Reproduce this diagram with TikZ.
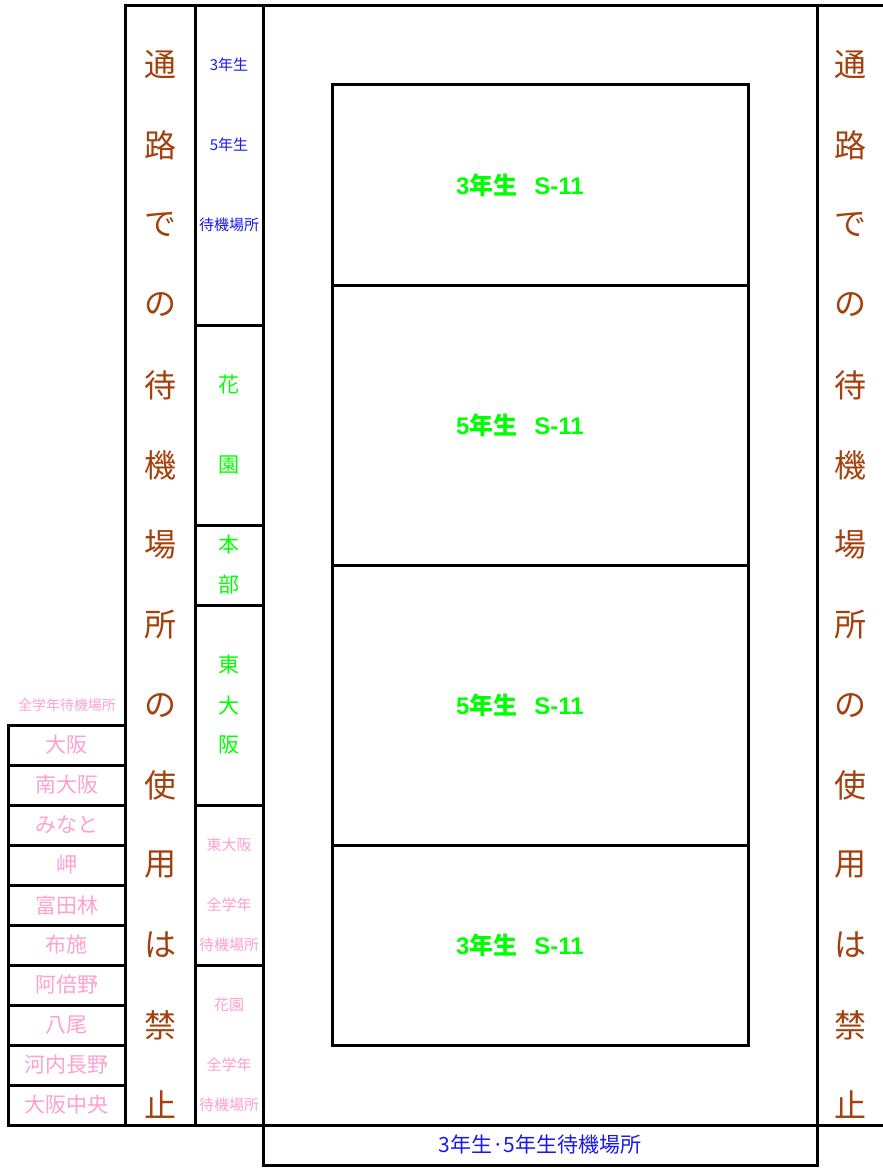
\documentclass[tikz,border=0pt]{standalone}
\usepackage{fontspec}
\setmainfont{Noto Sans CJK JP}
\newfontfamily\latf{Liberation Sans}
\definecolor{brc}{RGB}{164,64,12}
\definecolor{blc}{RGB}{24,24,240}
\definecolor{grc}{RGB}{0,255,0}
\definecolor{pkc}{RGB}{255,160,205}
\begin{document}
\begin{tikzpicture}[x=1pt,y=-1pt,
  ln/.style={line width=3pt},
  cell/.style={draw,line width=3pt,rectangle,inner sep=0pt,outer sep=0pt,anchor=north west},
  brt/.style={text=brc,font=\fontsize{32}{32}\selectfont,inner sep=0pt},
  blt/.style={text=blc,font=\fontsize{15}{15}\selectfont,inner sep=0pt},
  grt/.style={text=grc,font=\fontsize{21}{21}\selectfont,inner sep=0pt},
  pkt/.style={text=pkc,font=\fontsize{15}{15}\selectfont,inner sep=0pt},
  stn/.style={cell,minimum width=117pt,minimum height=40pt,text=pkc,font=\fontsize{21}{21}\selectfont},
  bigt/.style={text=grc,font=\bfseries\fontsize{24}{24}\selectfont,inner sep=0pt},
]
\useasboundingbox (0,0) rectangle (883,1168);
% outer structure
\node[cell,minimum width=70pt,minimum height=1120pt] (brcol) at (125,5) {};
\node[cell,minimum width=68pt,minimum height=320pt] (c1) at (195,5) {};
\node[cell,minimum width=68pt,minimum height=200pt] (c2) at (195,325) {};
\node[cell,minimum width=68pt,minimum height=80pt] (c3) at (195,525) {};
\node[cell,minimum width=68pt,minimum height=200pt] (c4) at (195,605) {};
\node[cell,minimum width=68pt,minimum height=160pt] (c5) at (195,805) {};
\node[cell,minimum width=68pt,minimum height=160pt] (c6) at (195,965) {};
\node[cell,minimum width=554pt,minimum height=1120pt] (field) at (263,5) {};
\node[cell,minimum width=554pt,minimum height=40pt] (bot) at (263,1125) {};
\coordinate (tr) at (883,5);
\coordinate (brr) at (883,1125);
\draw[ln] (field.north east) -- (tr);
\draw[ln] (field.south east) -- (brr);
% main boxes
\node[cell,minimum width=416pt,minimum height=201pt] (m1) at (332,84) {};
\node[cell,minimum width=416pt,minimum height=280pt] (m2) at (332,285) {};
\node[cell,minimum width=416pt,minimum height=280pt] (m3) at (332,565) {};
\node[cell,minimum width=416pt,minimum height=200pt] (m4) at (332,845) {};
\node[bigt] (t1) at (520,185) {{\latf 3}年生\hspace{0.7em}{\latf S-11}};
\node[bigt] (t2) at (520,425) {{\latf 5}年生\hspace{0.7em}{\latf S-11}};
\node[bigt] (t3) at (520,705) {{\latf 5}年生\hspace{0.7em}{\latf S-11}};
\node[bigt] (t4) at (520,945) {{\latf 3}年生\hspace{0.7em}{\latf S-11}};
% brown vertical texts
\foreach \c [count=\i from 0] in {通,路,で,の,待,機,場,所,の,使,用,は,禁,止} {
  \node[brt] (bl\i) at (160,{65+80*\i}) {\c};
  \node[brt] (br\i) at (850,{65+80*\i}) {\c};
}
% column texts
\node[blt] (b1) at (229,65) {3年生};
\node[blt] (b2) at (229,145) {5年生};
\node[blt] (b3) at (229,225) {待機場所};
\node[grt] (g1) at (229,385) {花};
\node[grt] (g2) at (229,465) {園};
\node[grt] (g3) at (229,545) {本};
\node[grt] (g4) at (229,585) {部};
\node[grt] (g5) at (229,665) {東};
\node[grt] (g6) at (229,705) {大};
\node[grt] (g7) at (229,745) {阪};
\node[pkt] (p1) at (229,845) {東大阪};
\node[pkt] (p2) at (229,905) {全学年};
\node[pkt] (p3) at (229,945) {待機場所};
\node[pkt] (p4) at (229,1005) {花園};
\node[pkt] (p5) at (229,1065) {全学年};
\node[pkt] (p6) at (229,1105) {待機場所};
% stations
\node[pkt,font=\fontsize{14}{14}\selectfont] (allw) at (67,705) {全学年待機場所};
\foreach \t [count=\i from 0] in {大阪,南大阪,みなと,岬,富田林,布施,阿倍野,八尾,河内長野,大阪中央} {
  \node[stn] (st\i) at (8,{725+40*\i}) {\t};
}
\node[blt,font=\fontsize{21}{21}\selectfont] (bottxt) at (bot.center) {3年生·5年生待機場所};
\end{tikzpicture}
\end{document}
